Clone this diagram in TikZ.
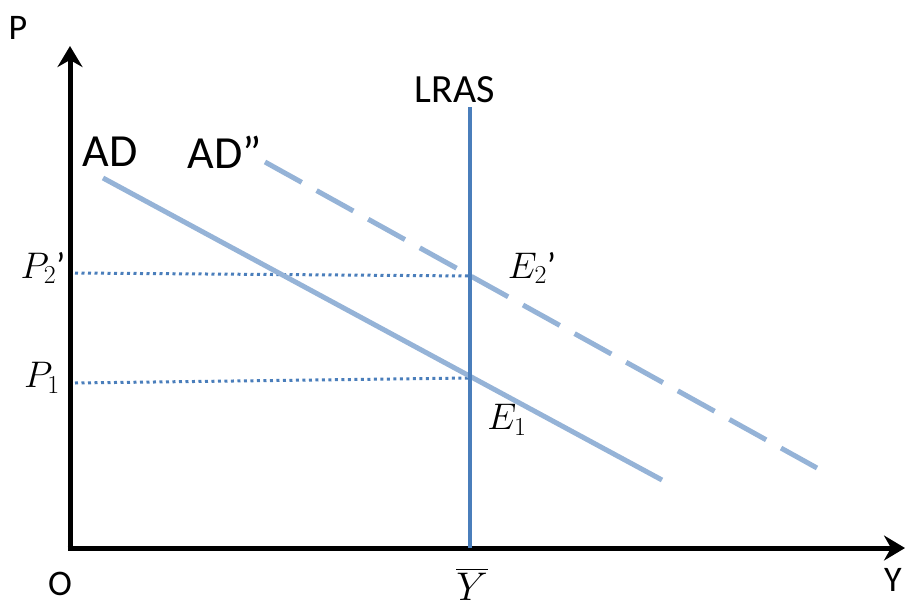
\RequirePackage{fix-cm}
\documentclass[tikz,border=0pt]{standalone}
\usepackage{fontspec}
\setmainfont{Carlito}
\usepackage{amsmath}
\usetikzlibrary{arrows.meta, positioning}

\definecolor{lrasblue}{RGB}{74,126,187}
\definecolor{adblue}{RGB}{149,179,215}

\begin{document}
\begin{tikzpicture}[
        x=1pt, y=-1pt,
        axis/.style = {line width=5pt, black, -{Stealth[length=21pt, width=25pt, inset=7pt]}},
        lras/.style = {line width=4pt, lrasblue},
        adline/.style = {line width=5pt, adblue},
        guide/.style = {line width=3pt, lrasblue, dash pattern=on 3pt off 3.5pt},
        lbl/.style = {inner sep=0pt, font=\fontsize{36}{40}\selectfont},
        curvelbl/.style = {inner sep=0pt, font=\fontsize{46}{50}\selectfont},
        mlbl/.style = {inner sep=0pt, font=\fontsize{37}{40}\selectfont}
    ]

    \useasboundingbox (0,0) rectangle (907,610);

    % axes
    \coordinate (O) at (70,548);
    \coordinate (ytop) at (70,46);
    \coordinate (xend) at (905,548);
    \draw[axis] (O) -- (ytop);
    \draw[axis] ([xshift=-2.5pt]O) -- (xend);

    % curves
    \coordinate (lrasTop) at (470,107);
    \coordinate (lrasBot) at (470,548);
    \coordinate (adA) at (103,178);
    \coordinate (adB) at (662,480);
    \coordinate (adtA) at (265,162);
    \coordinate (adtB) at (817,468);
    \coordinate (E1) at (470,378);
    \coordinate (E2) at (470,276);
    \coordinate (p1) at (75,383);
    \coordinate (p2) at (75,273);

    \draw[guide] (p1) -- (E1);
    \draw[guide] (p2) -- (E2);
    \draw[adline] (adA) -- (adB);
    \draw[adline, dash pattern=on 42pt off 17pt] (adtA) -- (adtB);
    \draw[lras] (lrasTop) -- (lrasBot);

    % labels
    \node[lbl] (labP) at (18,28) {P};
    \node[lbl] (labO) at (60,584) {O};
    \node[lbl] (labY) at (893,580) {Y};
    \node[lbl, font=\fontsize{40}{44}\selectfont] (labLRAS) at (455,90) {LRAS};
    \node[curvelbl] (labAD) at (110,152) {AD};
    \node[curvelbl] (labADt) at (225,152) {AD''};
    \node[mlbl] (labP2) at (43,268) {$P_2$'};
    \node[mlbl] (labP1) at (42,378) {$P_1$};
    \node[mlbl] (labE2) at (532,268) {$E_2$'};
    \node[mlbl] (labE1) at (507,420) {$E_1$};
    \node[mlbl, font=\fontsize{40}{44}\selectfont] (labYbar) at (472,584) {$\overline{Y}$};
\end{tikzpicture}
\end{document}
